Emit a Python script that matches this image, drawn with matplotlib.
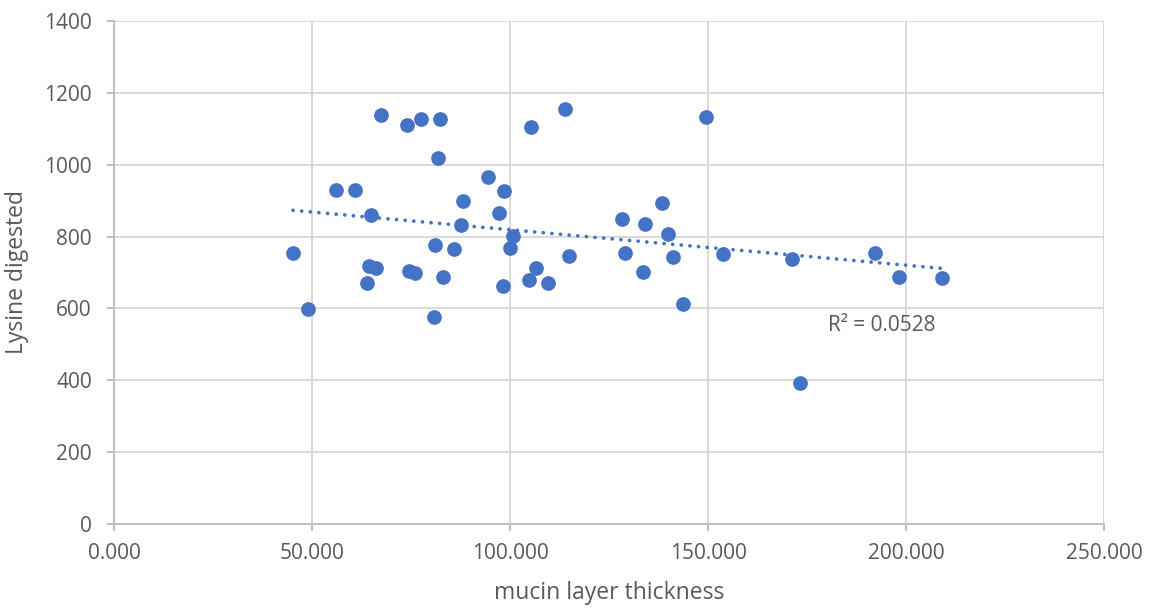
import numpy as np
import matplotlib
matplotlib.use("Agg")
import matplotlib.pyplot as plt

# mucin layer thickness (x) and lysine digested (y)
mucin = [67.4, 74.0, 77.6, 82.4, 81.8, 105.3, 113.8, 56.1, 60.9, 65.0,
         94.5, 98.5, 88.2, 97.1, 87.5, 100.8, 100.0, 45.2, 81.1, 85.9,
         114.8, 64.5, 66.2, 74.5, 75.9, 63.9, 83.2, 106.6, 104.9, 109.6,
         98.3, 49.0, 80.8, 149.4, 138.4, 128.4, 134.2, 139.8, 129.0, 141.2,
         133.7, 143.8, 153.9, 171.2, 192.2, 198.3, 209.0, 173.2]
lysine = [1139, 1110, 1128, 1127, 1018, 1106, 1156, 930, 929, 861,
          966, 927, 899, 865, 832, 802, 768, 754, 778, 765,
          747, 717, 713, 704, 698, 671, 687, 713, 679, 671,
          661, 599, 577, 1134, 895, 850, 836, 806, 754, 743,
          700, 613, 751, 737, 753, 688, 684, 392]

x_ticks = [0, 50, 100, 150, 200, 250]
y_ticks = [0, 200, 400, 600, 800, 1000, 1200, 1400]
x_label = "mucin layer thickness"
y_label = "Lysine digested"
r2_text = "R\u00b2 = 0.0528"

plt.rcParams['font.family'] = ['Open Sans', 'DejaVu Sans']

text_color = "#595959"
grid_color = "#D9D9D9"
blue = "#4472C4"

fig = plt.figure(figsize=(11.53, 6.10), dpi=100)
ax = fig.add_axes([0.0989, 0.1418, 0.8586, 0.8230])

x = np.array(mucin)
y = np.array(lysine)
ax.scatter(x, y, s=112, color=blue, zorder=3, linewidths=0)

# linear trendline
slope, intercept = np.polyfit(x, y, 1)
xs = np.array([x.min(), x.max()])
ax.plot(xs, slope * xs + intercept, color=blue, linestyle=(0, (0.01, 2.3)),
        linewidth=2.7, dash_capstyle='round', zorder=2)

ax.text(180.3, 551, r2_text, fontsize=15, color=text_color, va='center', ha='left')

ax.set_xlim(0, 250)
ax.set_ylim(0, 1400)
ax.set_xticks(x_ticks)
ax.set_xticklabels([f"{v:.3f}" for v in x_ticks])
ax.set_yticks(y_ticks)
ax.set_yticklabels([str(v) for v in y_ticks])

ax.grid(True, color=grid_color, linewidth=1.4, zorder=0)
ax.set_axisbelow(True)
for s in ['top', 'right']:
    ax.spines[s].set_visible(False)
for s in ['left', 'bottom']:
    ax.spines[s].set_color("#BFBFBF")
    ax.spines[s].set_linewidth(1.4)
ax.tick_params(axis='both', colors="#BFBFBF", length=5, width=1.4,
               labelcolor=text_color, labelsize=15)
ax.tick_params(axis='y', pad=11)
ax.tick_params(axis='x', pad=9)

ax.set_xlabel(x_label, fontsize=16.5, color=text_color, labelpad=12)
ax.set_ylabel(y_label, fontsize=16.5, color=text_color, labelpad=11)

fig.savefig("out.png", dpi=100)
